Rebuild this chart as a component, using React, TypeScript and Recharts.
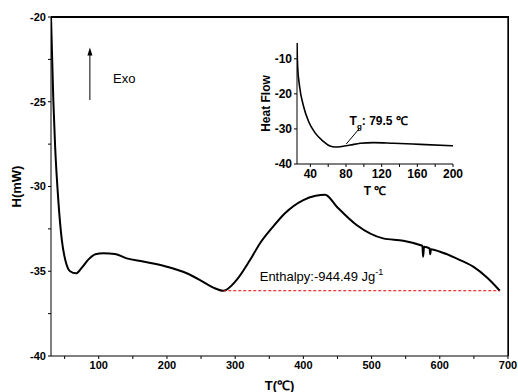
import React from "react";
import {
  ComposedChart,
  LineChart,
  Line,
  XAxis,
  YAxis,
  ReferenceLine,
  ReferenceDot,
  Label,
} from "recharts";

// main DSC trace, T (°C) vs H (mW)
const temps = [30, 33.4, 36, 40.7, 46, 52, 58, 66.7, 75, 85, 95, 106.7, 123.8, 141, 165, 199.6, 229, 248.5, 268, 282.6, 302, 321.8, 336.5, 355, 373, 400, 418, 432, 449, 478, 517, 546.6, 571, 574.5, 575.5, 577, 585, 586, 587, 600.4, 629.7, 649, 670, 688];
const heat = [-20, -24.9, -27.6, -30.8, -33.2, -34.5, -35.0, -35.12, -34.8, -34.3, -34.0, -33.94, -33.98, -34.24, -34.43, -34.73, -35.12, -35.52, -35.97, -36.15, -35.52, -34.34, -33.35, -32.4, -31.58, -30.8, -30.55, -30.48, -31.19, -32.27, -33.06, -33.2, -33.45, -33.5, -34.14, -33.55, -33.65, -34.0, -33.7, -33.85, -34.34, -34.73, -35.4, -36.15];

// inset: glass transition region
const insetTemps = [25, 25.7, 27.9, 32.4, 38, 45.5, 54.8, 62, 68, 75.4, 84.8, 96, 110.9, 133.3, 163.2, 200];
const insetFlow = [-5.5, -12.2, -17.9, -23.6, -27.9, -31.2, -33.6, -34.9, -35.15, -35.0, -34.6, -34.1, -33.9, -34.1, -34.4, -34.8];

const baselineT = [282.6, 688];
const baselineH = [-36.15, -36.15];

const xTicks = [50, 100, 150, 200, 250, 300, 350, 400, 450, 500, 550, 600, 650, 700];
const yTicks = [-40, -37.5, -35, -32.5, -30, -27.5, -25, -22.5, -20];
const insetXTicks = [40, 60, 80, 100, 120, 140, 160, 180, 200];
const insetYTicks = [-40, -30, -20, -10];

const data = temps.map((t, i) => ({ t, h: heat[i] }));
const baseline = baselineT.map((t, i) => ({ t, h: baselineH[i] }));
const insetData = insetTemps.map((t, i) => ({ t, f: insetFlow[i] }));

const font = "'Liberation Sans', Arial, sans-serif";
const tickStyle = { fontSize: 11, fontWeight: 700, fill: "#000", fontFamily: font };

const App: React.FC = () => {
  return (
    <div style={{ position: "absolute", left: 0, top: 0, width: 518, height: 392, background: "#fff" }}>
      <ComposedChart width={518} height={392} data={data} margin={{ top: 17, right: 10, bottom: 0, left: 0 }}>
        <XAxis
          dataKey="t"
          type="number"
          domain={[30, 700]}
          ticks={xTicks}
          interval={0}
          tickSize={3}
          height={36}
          tick={tickStyle}
          tickFormatter={(v) => (v % 100 === 0 ? `${v}` : "")}
          stroke="#000"
          allowDataOverflow
        >
          <Label value="T(℃)" position="insideBottom" offset={2} style={{ fontSize: 13, fontWeight: 700, fill: "#000", fontFamily: font }} />
        </XAxis>
        <YAxis
          type="number"
          domain={[-40, -20]}
          ticks={yTicks}
          interval={0}
          tickSize={3}
          width={51}
          tick={tickStyle}
          tickFormatter={(v) => (v % 5 === 0 ? `${v}` : "")}
          stroke="#000"
          allowDataOverflow
        >
          <Label value="H(mW)" angle={-90} position="insideLeft" offset={16} style={{ fontSize: 13, fontWeight: 700, fill: "#000", fontFamily: font, textAnchor: "middle" }} />
        </YAxis>

        <Line dataKey="h" type="monotone" stroke="#000" strokeWidth={2} dot={false} isAnimationActive={false} />
        <Line data={baseline} dataKey="h" type="linear" stroke="#e00000" strokeWidth={1} strokeDasharray="3 2" dot={false} isAnimationActive={false} />

        {/* top / right frame */}
        <ReferenceLine segment={[{ x: 30, y: -20.02 }, { x: 699.9, y: -20.02 }]} stroke="#000" strokeWidth={1.2} />
        <ReferenceLine segment={[{ x: 699.9, y: -20.02 }, { x: 699.9, y: -40 }]} stroke="#000" strokeWidth={1.2} />

        {/* Exo arrow */}
        <ReferenceLine segment={[{ x: 87, y: -24.9 }, { x: 87, y: -22.0 }]} stroke="#000" strokeWidth={1} />
        <ReferenceDot
          x={87}
          y={-21.8}
          r={0}
          shape={(p: any) => (
            <path d={`M${p.cx},${p.cy} L${p.cx - 2.5},${p.cy + 8} L${p.cx + 2.5},${p.cy + 8} Z`} fill="#000" />
          )}
        />
        <ReferenceDot
          x={121}
          y={-23.9}
          r={0}
          shape={(p: any) => (
            <text x={p.cx} y={p.cy} fontSize={13} fontFamily={font} fill="#000">
              Exo
            </text>
          )}
        />
        <ReferenceDot
          x={336}
          y={-35.55}
          r={0}
          shape={(p: any) => (
            <text x={p.cx} y={p.cy} fontSize={13} fontFamily={font} fill="#000">
              Enthalpy:-944.49 Jg
              <tspan fontSize={9} dy={-6}>-1</tspan>
            </text>
          )}
        />
      </ComposedChart>

      <div
        style={{
          position: "absolute",
          left: 51,
          top: 16,
          width: 458,
          height: 340,
          boxSizing: "border-box",
          borderTop: "1px solid #000",
          borderRight: "1px solid #000",
          pointerEvents: "none",
          zIndex: 5,
        }}
      />

      <div style={{ position: "absolute", left: 255, top: 35, zIndex: 6 }}>
        <LineChart width={218} height={165} data={insetData} margin={{ top: 8, right: 20, bottom: 0, left: 0 }}>
          <XAxis
            dataKey="t"
            type="number"
            domain={[25, 200]}
            ticks={insetXTicks}
            interval={0}
            tickSize={3}
            height={36}
            tick={{ ...tickStyle, fontSize: 12 }}
            tickFormatter={(v) => (v % 40 === 0 ? `${v}` : "")}
            stroke="#000"
            allowDataOverflow
          >
            <Label value="T ℃" position="insideBottom" offset={5} style={{ fontSize: 12, fontWeight: 700, fill: "#000", fontFamily: font }} />
          </XAxis>
          <YAxis
            type="number"
            domain={[-40, -5.5]}
            ticks={insetYTicks}
            interval={0}
            tickSize={3}
            width={42}
            tick={{ ...tickStyle, fontSize: 12 }}
            stroke="#000"
            allowDataOverflow
          >
            <Label value="Heat Flow" angle={-90} position="insideLeft" offset={11} style={{ fontSize: 12, fontWeight: 700, fill: "#000", fontFamily: font, textAnchor: "middle" }} />
          </YAxis>
          <Line dataKey="f" type="monotone" stroke="#000" strokeWidth={1.6} dot={false} isAnimationActive={false} />
          <ReferenceLine segment={[{ x: 80.3, y: -34.3 }, { x: 95.2, y: -29.8 }]} stroke="#000" strokeWidth={1} />
          <ReferenceDot
            x={84}
            y={-28.9}
            r={0}
            shape={(p: any) => (
              <text x={p.cx} y={p.cy} fontSize={12} fontWeight={700} fontFamily={font} fill="#000">
                T
                <tspan fontSize={8} dy={4}>g</tspan>
                <tspan dy={-4}>: 79.5 ℃</tspan>
              </text>
            )}
          />
        </LineChart>
      </div>
    </div>
  );
};

export default App;
